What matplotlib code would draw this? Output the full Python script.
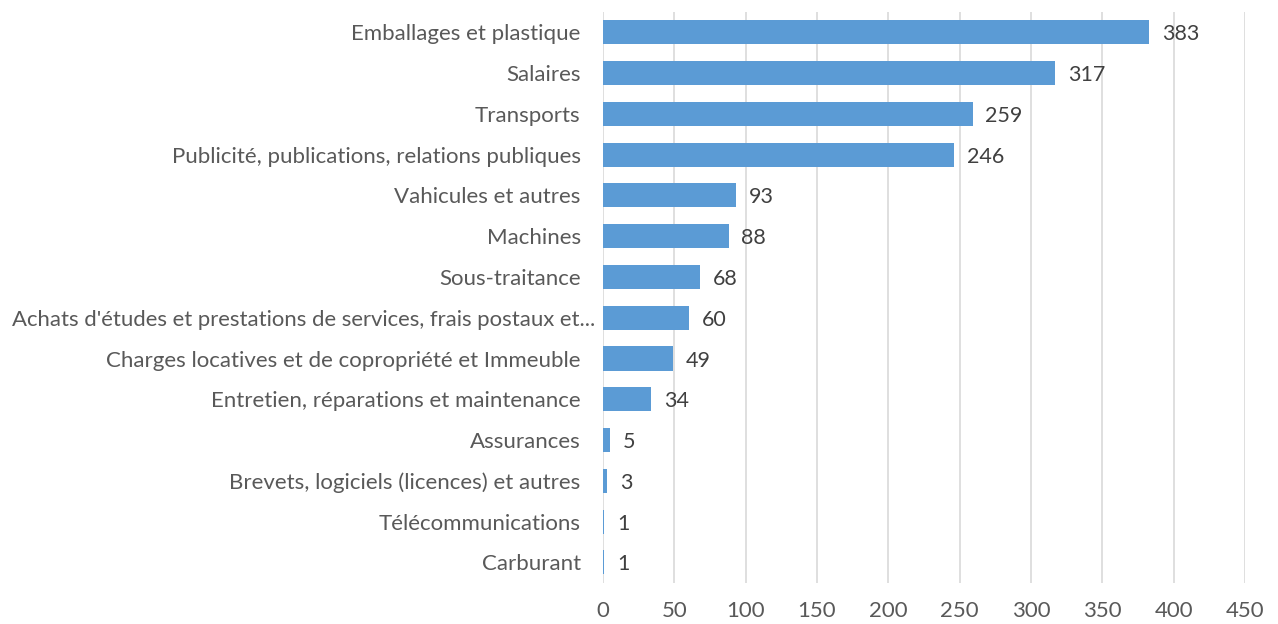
import matplotlib
matplotlib.use("Agg")
import matplotlib.pyplot as plt
from matplotlib.transforms import ScaledTranslation

categories = [
    "Emballages et plastique",
    "Salaires",
    "Transports",
    "Publicité, publications, relations publiques",
    "Vahicules et autres",
    "Machines",
    "Sous-traitance",
    "Achats d'études et prestations de services, frais postaux et...",
    "Charges locatives et de copropriété et Immeuble",
    "Entretien, réparations et maintenance",
    "Assurances",
    "Brevets, logiciels (licences) et autres",
    "Télécommunications",
    "Carburant",
]
values = [383, 317, 259, 246, 93, 88, 68, 60, 49, 34, 5, 3, 1, 1]
xticks = [0, 50, 100, 150, 200, 250, 300, 350, 400, 450]

plt.rcParams['font.family'] = ['Lato', 'DejaVu Sans']

fig = plt.figure(figsize=(12.78, 6.24), dpi=100)
ax = fig.add_axes([0.4718, 0.066, 0.5024, 0.915])

pos = list(range(len(categories)))
ax.barh(pos, values, height=0.59, color="#5B9BD5", zorder=3)
for p, v in zip(pos, values):
    ax.text(v + 9, p + 0.05, str(v), va="center", ha="left", fontsize=15.5,
            color="#404040", zorder=4)

ax.set_yticks(pos)
ax.set_yticklabels(categories, fontsize=16, color="#595959")
ax.set_ylim(len(categories) - 0.5, -0.5)
ax.set_xlim(0, 450)
ax.set_xticks(xticks)
ax.set_xticklabels([str(t) for t in xticks], fontsize=16, color="#595959")
ax.tick_params(axis="both", length=0)
ax.tick_params(axis="x", pad=13)
ax.tick_params(axis="y", pad=16)
ax.grid(axis="x", color="#D9D9D9", linewidth=1.2, zorder=0)
for s in ax.spines.values():
    s.set_visible(False)

# the truncated label sits closer to the axis, like in excel
for lbl in ax.get_yticklabels():
    if lbl.get_text().endswith("..."):
        lbl.set_fontsize(15.9)
        lbl.set_transform(lbl.get_transform() + ScaledTranslation(0.15, 0, fig.dpi_scale_trans))

fig.savefig("out.png", dpi=100)
